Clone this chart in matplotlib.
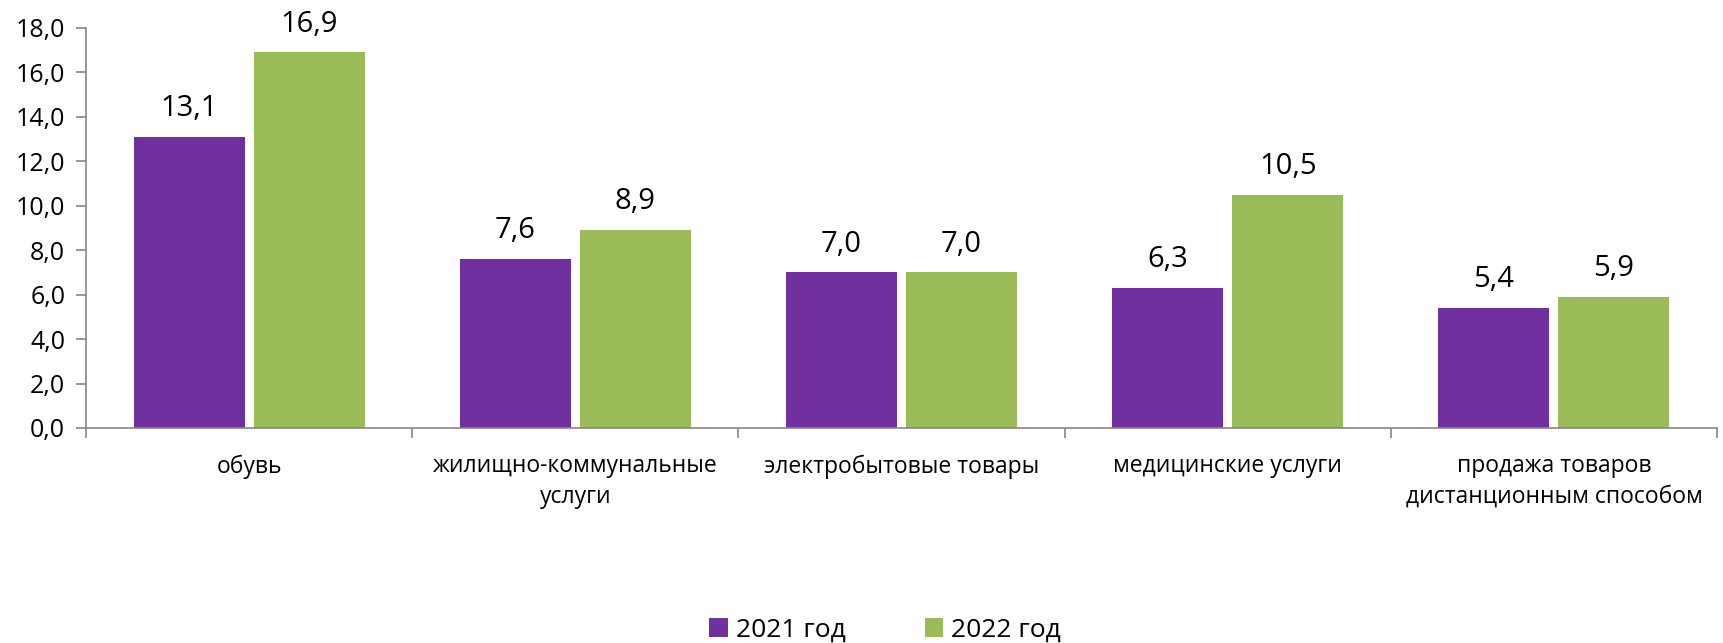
import matplotlib
matplotlib.use("Agg")
import matplotlib.pyplot as plt
import numpy as np

categories = ["обувь", "жилищно-коммунальные\nуслуги", "электробытовые товары",
              "медицинские услуги", "продажа товаров\nдистанционным способом"]
series_names = ["2021 год", "2022 год"]
values_2021 = [13.1, 7.6, 7.0, 6.3, 5.4]
values_2022 = [16.9, 8.9, 7.0, 10.5, 5.9]
yticks = [0, 2, 4, 6, 8, 10, 12, 14, 16, 18]

plt.rcParams['font.family'] = ['Open Sans', 'DejaVu Sans']

fig = plt.figure(figsize=(17.23, 6.43), dpi=100)
ax = fig.add_axes([86/1723, 1-428/643, (1717-86)/1723, (428-28)/643])

x = np.arange(len(categories))
w = 0.34
off = 0.184
b1 = ax.bar(x - off, values_2021, w, color="#7030A0", label=series_names[0])
b2 = ax.bar(x + off, values_2022, w, color="#9BBB59", label=series_names[1])

def fmt(v):
    return f"{v:.1f}".replace(".", ",")

for bars, vals in ((b1, values_2021), (b2, values_2022)):
    for r, v in zip(bars, vals):
        ax.annotate(fmt(v), (r.get_x() + r.get_width()/2, v), xytext=(0, 10),
                    textcoords="offset points", ha="center", va="bottom", fontsize=21)

ax.set_xlim(-0.5, len(categories) - 0.5)
ax.set_ylim(0, 18)
ax.set_yticks(yticks)
ax.set_yticklabels([fmt(t) for t in yticks], fontsize=18)
ax.set_xticks(x)
ax.set_xticklabels(categories, fontsize=16.5, linespacing=1.35)
ax.set_xticks(np.arange(-0.5, len(categories)), minor=True)
ax.tick_params(axis="x", which="major", length=0, pad=19)
ax.tick_params(axis="x", which="minor", length=7, color="#868686", width=1.2)
ax.tick_params(axis="y", length=7, color="#868686", width=1.2, pad=8)

for s in ("top", "right"):
    ax.spines[s].set_visible(False)
for s in ("left", "bottom"):
    ax.spines[s].set_color("#868686")
    ax.spines[s].set_linewidth(1.2)

fig.legend(handles=[b1, b2], labels=series_names, loc="center", bbox_to_anchor=(885/1723, 1-630/643),
           ncol=2, frameon=False, fontsize=19, handlelength=0.7, handleheight=0.7,
           handletextpad=0.3, columnspacing=3.0)

fig.savefig("out.png", dpi=100)
